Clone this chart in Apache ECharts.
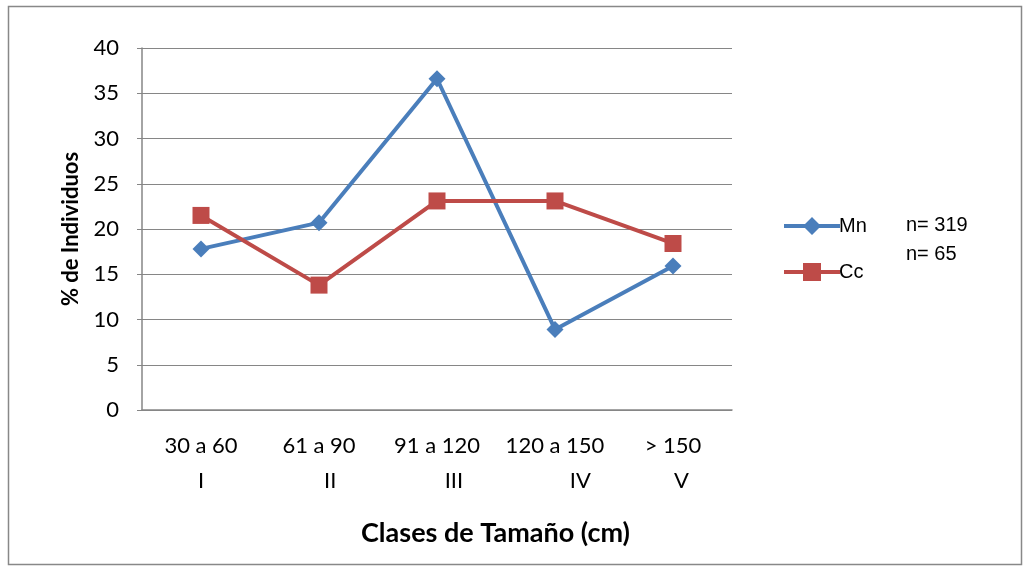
<!DOCTYPE html>
<html>
<head>
<meta charset="utf-8">
<script src="https://cdn.jsdelivr.net/npm/echarts@6/dist/echarts.min.js"></script>
<style>html,body{margin:0;padding:0;background:#fff}#c{width:1023px;height:566px}</style>
</head>
<body>
<div id="c"></div>
<script>
const categories = ["30 a 60\nI", "61 a 90\n    II", "91 a 120\n      III", "120 a 150\n         IV", "> 150\n   V"];
const mnValues = [17.8, 20.7, 36.6, 8.9, 15.9];
const ccValues = [21.5, 13.8, 23.1, 23.1, 18.4];
const seriesNames = ["Mn", "Cc"];
const sampleSizes = ["n= 319", "n= 65"];
const yTitle = "% de Individuos";
const xTitle = "Clases de Tamaño (cm)";

const chart = echarts.init(document.getElementById('c'), null, {renderer: 'canvas'});
const font = 'Lato, "Open Sans", sans-serif';
const diamondIcon = 'path://M0 7H56V11H0Z M28 0L37 9L28 18L19 9Z';
const squareIcon = 'path://M0 7H56V11H0Z M19 0H37V18H19Z';
chart.setOption({
  animation: false,
  backgroundColor: '#fff',
  grid: {left: 142, right: 291, top: 48, bottom: 156},
  legend: {
    orient: 'vertical', left: 779, top: 211, itemGap: 26,
    itemWidth: 56, itemHeight: 18,
    textStyle: {fontFamily: '"Liberation Sans", Arial, sans-serif', fontSize: 20, color: '#000', padding: [0,0,0,-6]},
    data: [{name: seriesNames[0], icon: diamondIcon}, {name: seriesNames[1], icon: squareIcon}]
  },
  xAxis: {
    type: 'category', data: categories, boundaryGap: true,
    axisLine: {lineStyle: {color: '#868686', width: 1.5}},
    axisTick: {show: false},
    axisLabel: {fontFamily: font, fontSize: 22, color: '#000', lineHeight: 35, margin: 18, interval: 0}
  },
  yAxis: {
    type: 'value', min: 0, max: 40, interval: 5,
    name: yTitle, nameLocation: 'middle', nameGap: 60, nameRotate: 90,
    nameTextStyle: {fontFamily: font, fontSize: 22, fontWeight: 'bold', color: '#000'},
    axisLine: {show: true, lineStyle: {color: '#868686', width: 1.5}},
    axisTick: {show: true, length: 5, lineStyle: {color: '#868686'}},
    axisLabel: {fontFamily: font, fontSize: 22, color: '#000', margin: 23},
    splitLine: {lineStyle: {color: '#868686', width: 1.2}}
  },
  series: [
    {name: seriesNames[0], type: 'line', data: mnValues, symbol: 'diamond', symbolSize: 17,
     lineStyle: {color: '#4a7ebb', width: 4}, itemStyle: {color: '#4a7ebb'}},
    {name: seriesNames[1], type: 'line', data: ccValues, symbol: 'rect', symbolSize: 17,
     lineStyle: {color: '#be4b48', width: 4}, itemStyle: {color: '#be4b48'}}
  ],
  graphic: [
    {type: 'rect', shape: {x: 8.5, y: 6.5, width: 1013, height: 558}, style: {fill: null, stroke: '#888', lineWidth: 1.5}, silent: true},
    {type: 'text', left: 906, top: 215, style: {text: sampleSizes[0], font: '20px "Liberation Sans", Arial, sans-serif', fill: '#000'}},
    {type: 'text', left: 906, top: 244, style: {text: sampleSizes[1], font: '20px "Liberation Sans", Arial, sans-serif', fill: '#000'}},
    {type: 'text', left: 361, top: 520, style: {text: xTitle, font: 'bold 27px Lato, "Open Sans", sans-serif', fill: '#000'}}
  ]
});
</script>
</body>
</html>
